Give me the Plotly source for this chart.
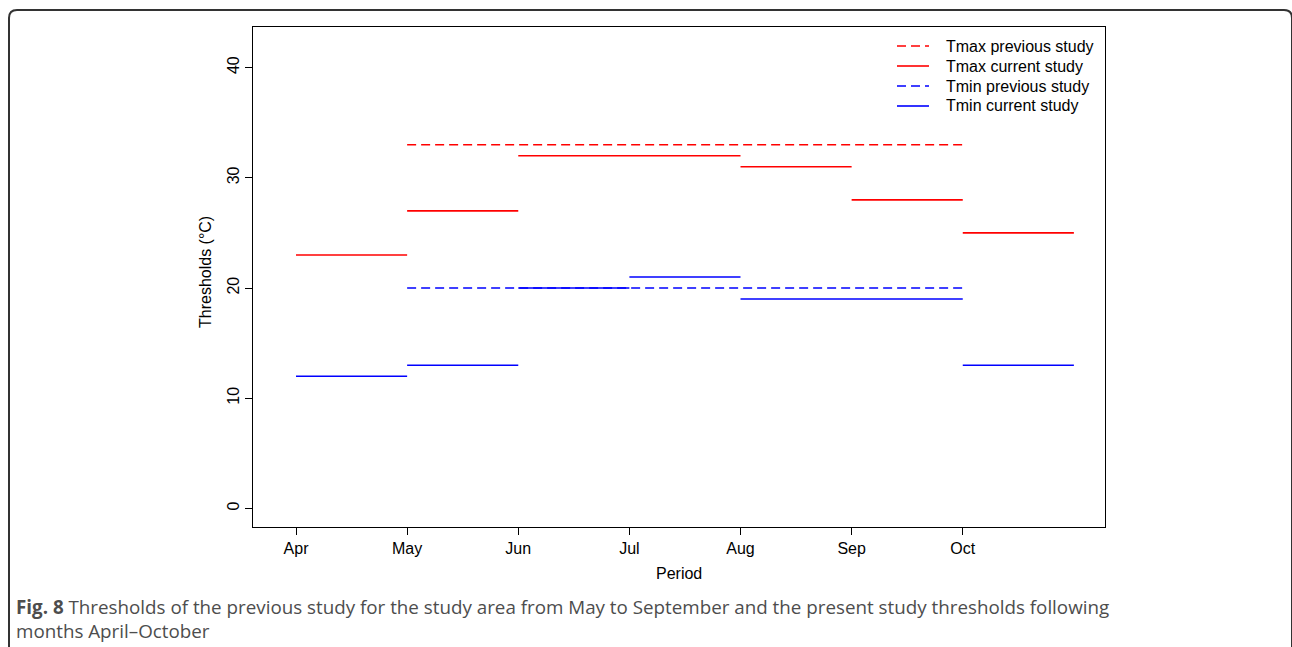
import plotly.graph_objects as go

# ---------------- data ----------------
months = ["Apr", "May", "Jun", "Jul", "Aug", "Sep", "Oct"]
month_pos = [1, 2, 3, 4, 5, 6, 7]

# segments: start position, end position, value
tmax_prev_start = [2]
tmax_prev_end = [7]
tmax_prev_val = [33]

tmax_cur_start = [1, 2, 3, 5, 6, 7]
tmax_cur_end = [2, 3, 5, 6, 7, 8]
tmax_cur_val = [23, 27, 32, 31, 28, 25]

tmin_prev_start = [2]
tmin_prev_end = [7]
tmin_prev_val = [20]

tmin_cur_start = [1, 2, 3, 4, 5, 7]
tmin_cur_end = [2, 3, 4, 5, 7, 8]
tmin_cur_val = [12, 13, 20, 21, 19, 13]

y_ticks = [0, 10, 20, 30, 40]

# ---------------- helpers ----------------
W, H = 1292, 647


def px(x):
    return x / W


def py(y):
    return 1 - y / H


def seg_xy(starts, ends, vals):
    xs, ys = [], []
    for s, e, v in zip(starts, ends, vals):
        xs += [s, e, None]
        ys += [v, v, None]
    return xs, ys


FONT = "Liberation Sans, Arial, Helvetica, sans-serif"
DASH = "9px,5px"
fig = go.Figure()

series = [
    ("Tmax previous study", tmax_prev_start, tmax_prev_end, tmax_prev_val, "#FF0000", DASH),
    ("Tmax current study", tmax_cur_start, tmax_cur_end, tmax_cur_val, "#FF0000", "solid"),
    ("Tmin previous study", tmin_prev_start, tmin_prev_end, tmin_prev_val, "#0000FF", DASH),
    ("Tmin current study", tmin_cur_start, tmin_cur_end, tmin_cur_val, "#0000FF", "solid"),
]
for name, s, e, v, col, dash in series:
    xs, ys = seg_xy(s, e, v)
    fig.add_trace(go.Scatter(
        x=xs, y=ys, mode="lines", name=name,
        line=dict(color=col, width=1.6, dash=dash),
        connectgaps=False, hoverinfo="skip", showlegend=False,
    ))

plot_l, plot_r, plot_t, plot_b = 253, 1105, 27, 527

fig.update_layout(
    width=W, height=H,
    margin=dict(l=0, r=0, t=0, b=0),
    paper_bgcolor="white", plot_bgcolor="white",
    font=dict(family=FONT, size=16, color="black"),
    showlegend=False,
    xaxis=dict(
        domain=[px(plot_l), px(plot_r)],
        range=[0.613, 8.28],
        tickmode="array", tickvals=month_pos, ticktext=months,
        ticks="outside", ticklen=7, tickwidth=1, tickcolor="black",
        showline=True, linecolor="black", linewidth=1, mirror=True,
        showgrid=False, zeroline=False,
        tickfont=dict(family=FONT, size=16, color="black"),
    ),
    yaxis=dict(
        domain=[py(plot_b), py(plot_t)],
        range=[-1.68, 43.68],
        tickmode="array", tickvals=y_ticks, ticktext=[str(t) for t in y_ticks],
        tickangle=-90,
        ticks="outside", ticklen=7, tickwidth=1, tickcolor="black",
        showline=True, linecolor="black", linewidth=1, mirror=True,
        showgrid=False, zeroline=False,
        tickfont=dict(family=FONT, size=16, color="black"),
    ),
)

# legend (drawn as keys + labels, no box)
leg_x0, leg_x1, leg_tx, leg_y0, leg_dy = 897, 929, 944, 46, 20
for i, (name, _s, _e, _v, col, dash) in enumerate(series):
    yy = leg_y0 + i * leg_dy
    fig.add_shape(type="line", xref="paper", yref="paper",
                  x0=px(leg_x0), x1=px(leg_x1), y0=py(yy), y1=py(yy),
                  line=dict(color=col, width=1.6, dash=dash))
    fig.add_annotation(x=px(leg_tx), y=py(yy), xref="paper", yref="paper",
                       xanchor="left", yanchor="middle", showarrow=False,
                       text=name, font=dict(family=FONT, size=16, color="black"))

# axis titles
fig.add_annotation(x=px(679), y=py(573), xref="paper", yref="paper",
                   xanchor="center", yanchor="middle",
                   text="Period", showarrow=False,
                   font=dict(family=FONT, size=16, color="black"))
fig.add_annotation(x=px(205), y=py(272), xref="paper", yref="paper",
                   xanchor="center", yanchor="middle",
                   text="Thresholds (°C)", showarrow=False, textangle=-90,
                   font=dict(family=FONT, size=16, color="black"))

# caption
CAP_FONT = "Open Sans, Noto Sans, sans-serif"
fig.add_annotation(x=px(14), y=py(607), xref="paper", yref="paper",
                   xanchor="left", yanchor="middle", showarrow=False,
                   text="<b>Fig. 8</b> Thresholds of the previous study for the study area from May to September and the present study thresholds following",
                   font=dict(family=CAP_FONT, size=18.8, color="#4d4d4d"))
fig.add_annotation(x=px(14), y=py(631), xref="paper", yref="paper",
                   xanchor="left", yanchor="middle", showarrow=False,
                   text="months April–October",
                   font=dict(family=CAP_FONT, size=18.8, color="#4d4d4d"))

# outer rounded frame
L, T, R, B, r = 9, 10, 1292, 660, 8
path = (f"M {px(L)},{py(B)} L {px(L)},{py(T + r)} "
        f"Q {px(L)},{py(T)} {px(L + r)},{py(T)} "
        f"L {px(R - r)},{py(T)} Q {px(R)},{py(T)} {px(R)},{py(T + r)} "
        f"L {px(R)},{py(B)}")
fig.add_shape(type="path", path=path, xref="paper", yref="paper",
              line=dict(color="#333333", width=2))

fig.write_html("out.html")
